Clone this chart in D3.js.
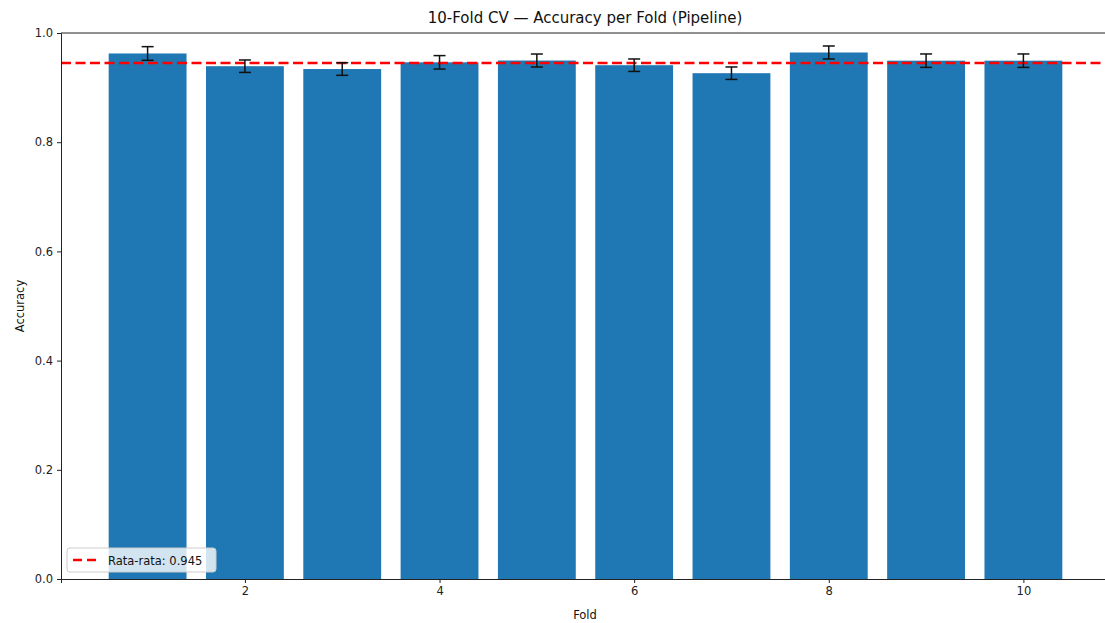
<!DOCTYPE html>
<html>
<head>
<meta charset="utf-8">
<script src="https://cdn.jsdelivr.net/npm/d3@7"></script>
<style>
  body { margin: 0; background: #fff; }
  svg { font-family: "DejaVu Sans", sans-serif; }
</style>
</head>
<body>
<svg id="chart" width="1105" height="623"></svg>
<script>
"use strict";

const folds = [1, 2, 3, 4, 5, 6, 7, 8, 9, 10];
const accuracy = [0.9625, 0.9392, 0.9340, 0.9463, 0.9496, 0.9410, 0.9264, 0.9643, 0.9493, 0.9493];
const errors = [0.0125, 0.0114, 0.0115, 0.0123, 0.0119, 0.0114, 0.0114, 0.0119, 0.0123, 0.0123];
const meanAcc = 0.945;
const xTicks = [2, 4, 6, 8, 10];
const yTicks = [0, 0.2, 0.4, 0.6, 0.8, 1.0];

const plotLeft = 61, plotRight = 1110, plotTop = 33, plotBottom = 579;
const barColor = "#1f77b4";

const svg = d3.select("#chart");

// data to SVG coordinate transforms
const xScale = d3.scaleLinear().domain([0.11, 10.89]).range([plotLeft, plotRight]);
const yScale = d3.scaleLinear().domain([0, 1]).range([plotBottom, plotTop]);
const barW = xScale(0.8) - xScale(0);

// bars
svg.append("g").selectAll("rect")
    .data(folds)
    .join("rect")
    .attr("x", (f) => xScale(f) - barW / 2)
    .attr("width", barW)
    .attr("y", (f, i) => yScale(accuracy[i]))
    .attr("height", (f, i) => yScale(0) - yScale(accuracy[i]))
    .attr("fill", barColor);

// mean line
svg.append("line")
    .attr("x1", plotLeft).attr("x2", plotRight)
    .attr("y1", yScale(meanAcc)).attr("y2", yScale(meanAcc))
    .attr("stroke", "red")
    .attr("stroke-width", 2.5)
    .attr("stroke-dasharray", "10,4.5");

// error bars
const capHalf = 6;
const eb = svg.append("g").attr("stroke", "#111").attr("stroke-width", 1.5);
folds.forEach((f, i) => {
    let cx = xScale(f);
    let lo = yScale(accuracy[i] - errors[i]);
    let hi = yScale(accuracy[i] + errors[i]);
    eb.append("line").attr("x1", cx).attr("x2", cx).attr("y1", lo).attr("y2", hi);
    eb.append("line").attr("x1", cx - capHalf).attr("x2", cx + capHalf).attr("y1", lo).attr("y2", lo);
    eb.append("line").attr("x1", cx - capHalf).attr("x2", cx + capHalf).attr("y1", hi).attr("y2", hi);
});

// axes
const xAxis = svg.append("g")
    .attr("transform", `translate(0,${plotBottom})`)
    .call(d3.axisBottom(xScale).tickValues(xTicks).tickSize(4).tickPadding(4).tickFormat(d3.format("d")));
const yAxis = svg.append("g")
    .attr("transform", `translate(${plotLeft},0)`)
    .call(d3.axisLeft(yScale).tickValues(yTicks).tickSize(4).tickPadding(4).tickFormat(d3.format(".1f")));
[xAxis, yAxis].forEach((a) => {
    a.selectAll("text").attr("font-size", 11.5).attr("fill", "#222")
        .attr("font-family", "DejaVu Sans, sans-serif");
    a.selectAll("line").attr("stroke", "#222");
    a.select(".domain").attr("stroke", "#222");
});

// top spine
svg.append("line")
    .attr("x1", plotLeft).attr("x2", plotRight)
    .attr("y1", plotTop).attr("y2", plotTop)
    .attr("stroke", "#222");

// title and labels
svg.append("text")
    .attr("x", 585).attr("y", 22.5)
    .attr("text-anchor", "middle")
    .attr("font-size", 15).attr("fill", "#111")
    .text("10-Fold CV — Accuracy per Fold (Pipeline)");
svg.append("text")
    .attr("x", 585).attr("y", 619)
    .attr("text-anchor", "middle")
    .attr("font-size", 11.5).attr("fill", "#111")
    .text("Fold");
svg.append("text")
    .attr("transform", `translate(24,${(plotTop + plotBottom) / 2}) rotate(-90)`)
    .attr("text-anchor", "middle")
    .attr("font-size", 11.5).attr("fill", "#111")
    .text("Accuracy");

// legend
const lg = svg.append("g").attr("transform", "translate(67,548)");
lg.append("rect")
    .attr("width", 149).attr("height", 24)
    .attr("rx", 3)
    .attr("fill", "white").attr("fill-opacity", 0.8)
    .attr("stroke", "#ccc");
lg.append("line")
    .attr("x1", 6).attr("x2", 30).attr("y1", 12).attr("y2", 12)
    .attr("stroke", "red").attr("stroke-width", 2.5)
    .attr("stroke-dasharray", "9,5");
lg.append("text")
    .attr("x", 41).attr("y", 16.5)
    .attr("font-size", 11.5).attr("fill", "#111")
    .text("Rata-rata: " + meanAcc.toFixed(3));
</script>
</body>
</html>
